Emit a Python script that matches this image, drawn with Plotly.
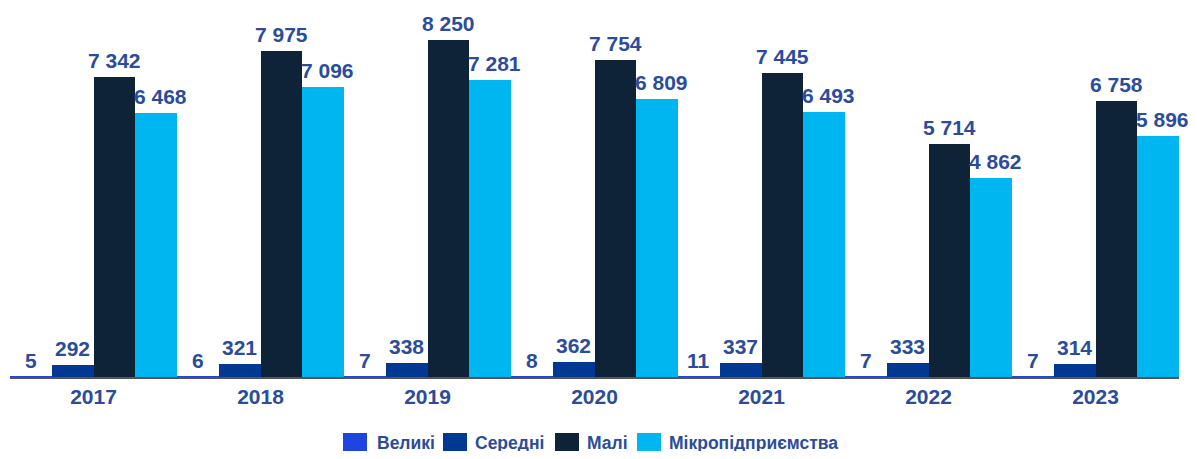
import plotly.graph_objects as go

years = ["2017", "2018", "2019", "2020", "2021", "2022", "2023"]
velyki = [5, 6, 7, 8, 11, 7, 7]
seredni = [292, 321, 338, 362, 337, 333, 314]
mali = [7342, 7975, 8250, 7754, 7445, 5714, 6758]
mikro = [6468, 7096, 7281, 6809, 6493, 4862, 5896]

names = ["Великі", "Середні", "Малі", "Мікропідприємства"]
colors = ["#1F45E0", "#003893", "#0F2338", "#00B6F0"]
values = [velyki, seredni, mali, mikro]

def fmt(v):
    return f"{v:,}".replace(",", " ")

label_color = "#2B4C9B"
FONT = "Liberation Sans, Arial"

W, H = 1181, 443
L, R, T, B = 2, 10, 0, 74
pw, ph = W - L - R, H - T - B
bar_w = pw / len(years) / len(names)
label_nudge = [0, 0, 0, 4]

fig = go.Figure()
for i, (name, vals, col) in enumerate(zip(names, values, colors)):
    fig.add_trace(go.Bar(
        x=years, y=vals, name=name, showlegend=False,
        marker=dict(color=col, line=dict(width=0)),
        cliponaxis=False,
    ))
    for j, v in enumerate(vals):
        fig.add_annotation(
            x=j, y=v, xref="x", yref="y",
            xshift=(i - 1.5) * bar_w + label_nudge[i], yshift=3,
            xanchor="center", yanchor="bottom", showarrow=False,
            text=f"<b>{fmt(v)}</b>",
            font=dict(family=FONT, size=21, color=label_color),
        )

# manual legend (pixel positions converted to paper coords)
def px(x):
    return (x - L) / pw

def py(y):
    return (T + ph - y) / ph

sq_left = [335, 435, 547, 629]
txt_left = [367, 465, 577, 659]
for name, col, sl, tl in zip(names, colors, sq_left, txt_left):
    fig.add_shape(type="rect", xref="paper", yref="paper",
                  x0=px(sl), x1=px(sl + 24), y0=py(425), y1=py(443),
                  fillcolor=col, line=dict(width=0))
    fig.add_annotation(xref="paper", yref="paper", x=px(tl), y=py(435),
                       xanchor="left", yanchor="middle", showarrow=False,
                       text=f"<b>{name}</b>",
                       font=dict(family=FONT, size=17.5, color=label_color))

fig.update_layout(
    width=W, height=H,
    margin=dict(l=L, r=R, t=T, b=B),
    barmode="group", bargap=0, bargroupgap=0,
    plot_bgcolor="white", paper_bgcolor="white",
    showlegend=False,
    xaxis=dict(type="category", showline=True, linecolor="#555", linewidth=1.5,
               ticks="", range=[-0.5, len(years) - 0.5],
               tickfont=dict(family=FONT, size=21, color=label_color),
               tickvals=years, ticktext=[f"<b>{y}</b>" for y in years],
               showgrid=False),
    yaxis=dict(visible=False, range=[0, 9034], showgrid=False),
    font=dict(family=FONT),
)

fig.write_html("out.html")
